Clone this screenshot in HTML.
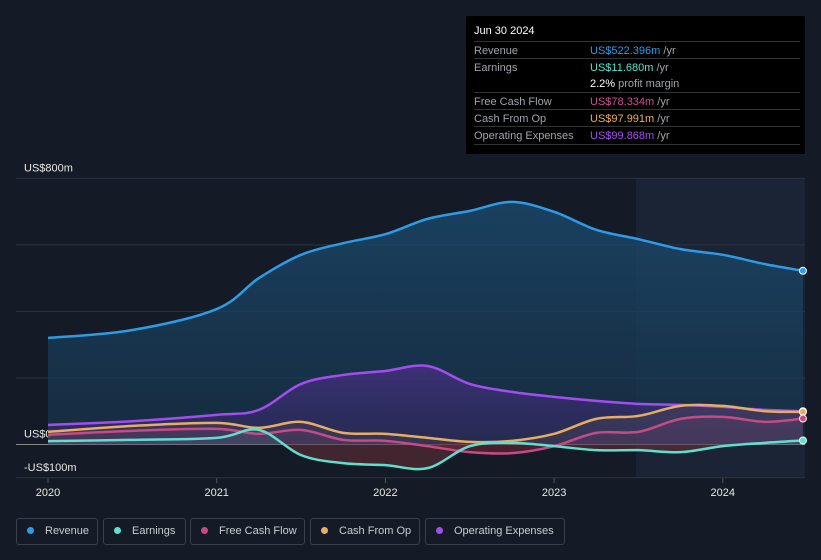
<!DOCTYPE html>
<html><head><meta charset="utf-8"><style>
body{margin:0;background:#151b26;width:821px;height:560px;overflow:hidden;font-family:"Liberation Sans",sans-serif}
#tip{position:absolute;left:466px;top:16px;width:339px;height:138px;background:#000;border-radius:2px;color:#c8ccd2;font-size:11px}
#tip .t{position:absolute;left:8px;top:9px;color:#fff;font-size:11px}
.row{position:absolute;left:8px;width:326px;height:17px;border-top:1px solid #333}
.row span.l{position:absolute;left:0;top:3px;color:#a0a4aa}
.row span.v{position:absolute;left:116px;top:3px;white-space:nowrap}
.u{color:#a0a4aa}
.leg{position:absolute;top:518px;height:27px;border:1px solid #3a3f4a;border-radius:3px;box-sizing:border-box;color:#c8ccd2;font-size:11px;line-height:25px;white-space:nowrap;overflow:hidden}
.leg i{display:inline-block;width:7px;height:7px;border-radius:50%;margin:0 11px 0 10px;vertical-align:0}
</style></head><body>
<svg id="c" width="821" height="560" style="position:absolute;left:0;top:0"></svg>
<div id="tip">
<div class="t">Jun 30 2024</div>
<div class="row" style="top:25px"><span class="l">Revenue</span><span class="v"><b style="font-weight:normal;color:#2d9be6">US$522.396m</b> <span class="u">/yr</span></span></div>
<div class="row" style="top:42px"><span class="l">Earnings</span><span class="v"><b style="font-weight:normal;color:#5fe0cc">US$11.680m</b> <span class="u">/yr</span></span></div>
<div class="row" style="top:59px;border-top:none"><span class="v"><b style="font-weight:normal;color:#fff">2.2%</b> <span class="u">profit margin</span></span></div>
<div class="row" style="top:76px"><span class="l">Free Cash Flow</span><span class="v"><b style="font-weight:normal;color:#d0508f">US$78.334m</b> <span class="u">/yr</span></span></div>
<div class="row" style="top:93px"><span class="l">Cash From Op</span><span class="v"><b style="font-weight:normal;color:#eaad62">US$97.991m</b> <span class="u">/yr</span></span></div>
<div class="row" style="top:110px;border-bottom:1px solid #333"><span class="l">Operating Expenses</span><span class="v"><b style="font-weight:normal;color:#a34df0">US$99.868m</b> <span class="u">/yr</span></span></div>
</div>
<div class="leg" style="left:16px;width:82px"><i style="background:#2d9be6"></i>Revenue</div>
<div class="leg" style="left:103px;width:83px"><i style="background:#5fe0cc"></i>Earnings</div>
<div class="leg" style="left:190px;width:115px"><i style="background:#c64a86"></i>Free Cash Flow</div>
<div class="leg" style="left:310px;width:110px"><i style="background:#e8ad62"></i>Cash From Op</div>
<div class="leg" style="left:425px;width:140px"><i style="background:#a34df0"></i>Operating Expenses</div>
<script>
const times=[2020,2020.5,2021,2021.25,2021.5,2021.75,2022,2022.25,2022.5,2022.75,2023,2023.25,2023.5,2023.75,2024,2024.25,2024.475];
const revenue=[320,344,407,500,570,605,632,678,702,729,699,645,617,587,570,542,522];
const opex=[59,70,89,104,182,209,221,236,182,158,143,131,122,119,113,104,100];
const cashFromOp=[38,56,65,50,68,35,32,20,8,11,32,77,86,116,116,100,98];
const fcf=[29,41,47,32,44,14,11,-5,-23,-26,-5,35,38,77,83,68,78];
const earnings=[10,14,20,44,-32,-56,-62,-71,-5,5,-5,-17,-17,-23,-5,5,12];
const yTicks=[800,600,400,200,0,-100];
const yLabels={800:"US$800m",0:"US$0","-100":"-US$100m"};
const xTicks=[2020,2021,2022,2023,2024];
const X=t=>48+(t-2020)*168.7;
const Y=v=>444.5-v*0.3328;
const svg=document.getElementById('c');const NS='http://www.w3.org/2000/svg';
function mk(tag,at,parent){const e=document.createElementNS(NS,tag);for(const k in at)e.setAttribute(k,at[k]);(parent||svg).appendChild(e);return e;}
const defs=mk('defs',{});
defs.innerHTML='<linearGradient id="gb" x1="0" y1="0" x2="0" y2="1"><stop offset="0" stop-color="#1b4a6e" stop-opacity="0.8"/><stop offset="1" stop-color="#16324a" stop-opacity="0.7"/></linearGradient><linearGradient id="gp" x1="0" y1="0" x2="0" y2="1"><stop offset="0" stop-color="#5a2f9a" stop-opacity="0.55"/><stop offset="1" stop-color="#3a2a6a" stop-opacity="0.4"/></linearGradient><clipPath id="neg"><rect x="0" y="444.5" width="821" height="60"/></clipPath>';
let r=mk('rect',{x:636,y:178,width:169,height:300,fill:'#1a2434'});

yTicks.forEach(v=>{const l=mk('line',{x1:16,x2:805,y1:Y(v),y2:Y(v),stroke:v==0?'#888':'#2c3340','stroke-width':1});

if(yLabels[v]!==undefined){const t=mk('text',{x:24,y:Y(v)-7,fill:'#e8e8e8','font-size':11});t.textContent=yLabels[v];
}});
xTicks.forEach(v=>{mk('line',{x1:X(v),x2:X(v),y1:478,y2:483,stroke:'#555'});const t=mk('text',{x:X(v),y:496,fill:'#e8e8e8','font-size':11,'text-anchor':'middle'});t.textContent=v;
});
function path(vals){const p=vals.map((v,i)=>[X(times[i]),Y(v)]);let d='M'+p[0][0]+','+p[0][1];
for(let i=0;i<p.length-1;i++){const p0=p[i-1]||p[i],p1=p[i],p2=p[i+1],p3=p[i+2]||p2;const k=6;
d+=' C'+(p1[0]+(p2[0]-p0[0])/k)+','+(p1[1]+(p2[1]-p0[1])/k)+' '+(p2[0]-(p3[0]-p1[0])/k)+','+(p2[1]-(p3[1]-p1[1])/k)+' '+p2[0]+','+p2[1];}return d;}
function area(vals){return path(vals)+' L'+X(times[times.length-1])+','+Y(0)+' L'+X(times[0])+','+Y(0)+' Z';}
const series=[[revenue,'#2d9be6','url(#gb)','revenue'],[opex,'#a34df0','url(#gp)','operating-expenses'],[cashFromOp,'#e8ad62','rgba(232,173,98,0.08)','cash-from-op'],[fcf,'#c64a86','rgba(198,74,134,0.1)','free-cash-flow'],[earnings,'#5fe0cc','rgba(95,224,204,0.08)','earnings']];
series.forEach(s=>{const a=mk('path',{d:area(s[0]),fill:s[2]});});
[fcf,earnings].forEach(v=>mk('path',{d:area(v),fill:'rgba(140,30,40,0.35)','clip-path':'url(#neg)'}));
series.forEach(s=>{const l=mk('path',{d:path(s[0]),fill:'none',stroke:s[1],'stroke-width':2.5});

const c=mk('circle',{cx:X(times[times.length-1]),cy:Y(s[0][s[0].length-1]),r:3.5,fill:s[1],stroke:'#fff','stroke-width':1});
});
</script>
</body></html>
